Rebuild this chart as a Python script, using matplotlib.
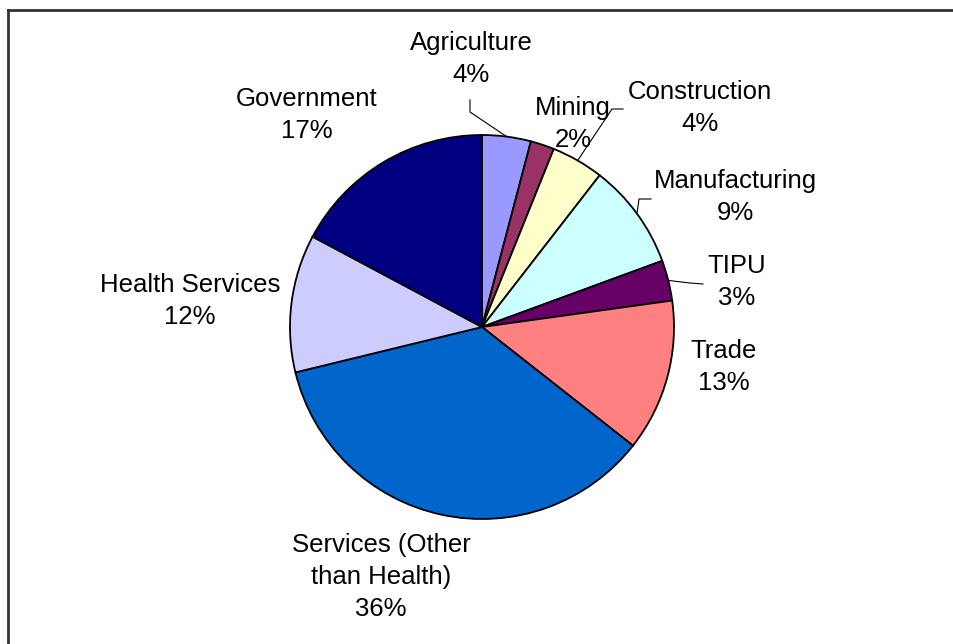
import numpy as np
import matplotlib
matplotlib.use('Agg')
import matplotlib.pyplot as plt

# sector shares (percent), clockwise from 12 o'clock
sectors = ['Agriculture', 'Mining', 'Construction', 'Manufacturing', 'TIPU',
           'Trade', 'Services (Other\nthan Health)', 'Health Services', 'Government']
shares = [4.1, 2.0, 4.4, 8.9, 3.4, 12.8, 35.6, 11.6, 17.2]
colors = ['#9999FF', '#993366', '#FFFFCC', '#CCFFFF', '#660066',
          '#FF8080', '#0066CC', '#CCCCFF', '#000080']

W, H = 954, 644
plt.rcParams['font.family'] = ['Liberation Sans', 'DejaVu Sans']

fig = plt.figure(figsize=(W / 100, H / 100), dpi=100)
ax = fig.add_axes([0, 0, 1, 1])


def py(y):
    # image row (from top) -> axes y (from bottom)
    return H - y


cx, cy, r = 482, py(327), 192
wedges, _ = ax.pie(shares, colors=colors, startangle=90, counterclock=False,
                   center=(cx, cy), radius=r, frame=True,
                   wedgeprops=dict(edgecolor='black', linewidth=1.3))
ax.set_xlim(0, W)
ax.set_ylim(0, H)
ax.set_aspect('equal')
ax.axis('off')

# label block centers (layout, image rows)
label_pos = [(471, 59), (573, 124), (700, 108), (735, 197), (737, 282),
             (724, 367), (381, 577), (190, 301), (307, 115)]
total = sum(shares)
for name, val, (lx, ly) in zip(sectors, shares, label_pos):
    pct = '{:d}%'.format(int(round(val / total * 100)))
    ax.text(lx, py(ly), name + '\n' + pct, ha='center', va='center',
            fontsize=18.5, linespacing=1.42, color='black')

# leader lines: elbow points (layout) -> wedge edge at mid angle
angles = np.cumsum([0] + shares) / total * 360.0
leaders = {0: [(470, 100), (470, 112)],
           2: [(623, 109), (612, 109)],
           3: [(651, 199), (639, 199)],
           4: [(703, 284), (690, 283)]}
for i, pts in leaders.items():
    mid = 90 - (angles[i] + angles[i + 1]) / 2
    ex = cx + r * np.cos(np.radians(mid))
    ey = cy + r * np.sin(np.radians(mid))
    xs = [p[0] for p in pts] + [ex]
    ys = [py(p[1]) for p in pts] + [ey]
    ax.plot(xs, ys, color='black', linewidth=0.8)

# chart frame (top and left edges visible)
ax.plot([8, W + 5], [py(10), py(10)], color='#333333', linewidth=2, clip_on=False)
ax.plot([8, 8], [py(10), -5], color='#333333', linewidth=2, clip_on=False)

fig.savefig('out.png', dpi=100)
